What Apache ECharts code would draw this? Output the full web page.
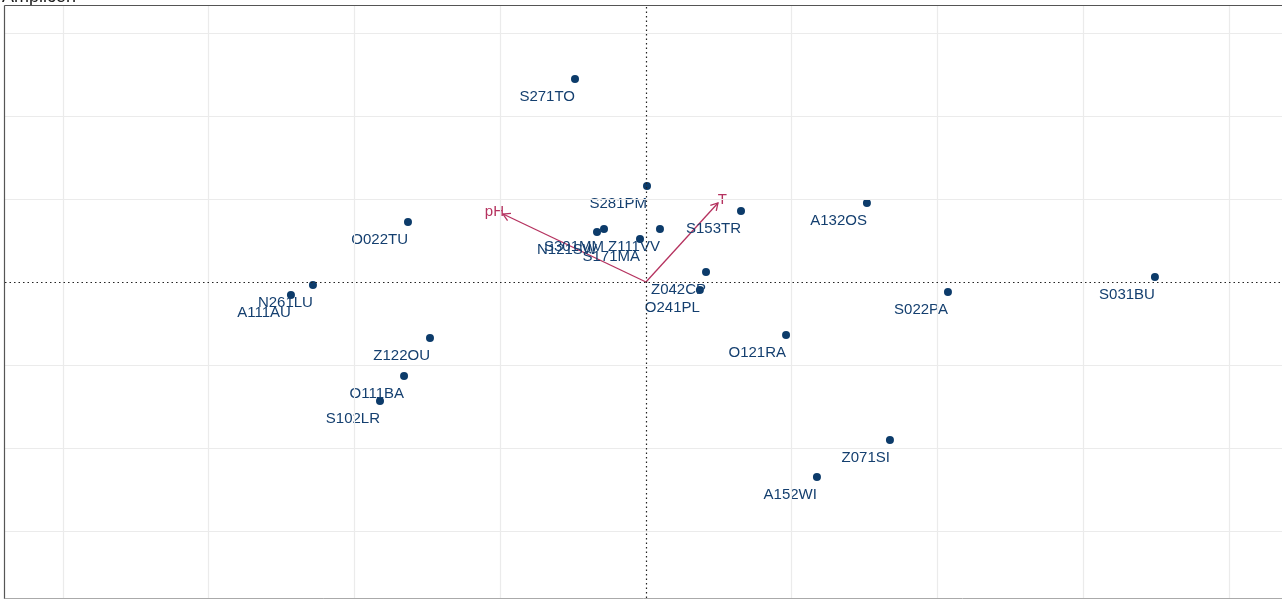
<!DOCTYPE html>
<html><head><meta charset="utf-8">
<script src="https://cdn.jsdelivr.net/npm/echarts@6/dist/echarts.min.js"></script>
<style>html,body{margin:0;padding:0;background:#fff}#c{width:1282px;height:599px}</style>
</head><body><div id="c"></div>
<script>
// Site scores (ordination axis units; grid spacing = 1)
const siteNames = ['S271TO','S281PM','A132OS','S153TR','O022TU','S301MM','N121SW','Z111VV','S171MA','Z042CP','O241PL','N261LU','A111AU','S031BU','S022PA','Z122OU','O121RA','O111BA','S102LR','Z071SI','A152WI'];
const siteX = [-0.487, 0.007, 1.516, 0.652, -1.633, -0.288, -0.336, 0.096, -0.041, 0.412, 0.370, -2.285, -2.436, 3.492, 2.072, -1.482, 0.961, -1.660, -1.825, 1.674, 1.173];
const siteY = [2.446, 1.157, 0.952, 0.855, 0.723, 0.639, 0.602, 0.639, 0.518, 0.120, -0.096, -0.036, -0.157, 0.060, -0.120, -0.675, -0.639, -1.133, -1.434, -1.904, -2.349];
// Environmental vectors
const envNames = ['pH', 'T'];
const envX = [-0.981, 0.494];
const envY = [0.819, 0.952];
// Grid line positions
const xGrid = [-4, -3, -2, -1, 1, 2, 3, 4];
const yGrid = [-3, -2, -1, 1, 2, 3];

const chart = echarts.init(document.getElementById('c'));
const ARROW = '#b5325f';
const FONT = '"Liberation Sans", Arial, sans-serif';

const gridLines = [];
xGrid.forEach(v => gridLines.push({xAxis: v}));
yGrid.forEach(v => gridLines.push({yAxis: v}));

chart.setOption({
  animation: false,
  grid: {left: 5, top: 5, right: 0, bottom: 1},
  xAxis: {type: 'value', min: -4.398, max: 4.364, axisLine: {show: false}, axisTick: {show: false}, axisLabel: {show: false}, splitLine: {show: false}},
  yAxis: {type: 'value', min: -3.807, max: 3.337, axisLine: {show: false}, axisTick: {show: false}, axisLabel: {show: false}, splitLine: {show: false}},
  graphic: [
    {type: 'text', left: 2, top: -12, style: {text: 'Amplicon', font: '18px ' + FONT, fill: '#1a1a1a'}, z: 100},
    {type: 'line', shape: {x1: 4.5, y1: 5.5, x2: 1282, y2: 5.5}, style: {stroke: '#555', lineWidth: 1.2}, z: 100},
    {type: 'line', shape: {x1: 4.5, y1: 5.5, x2: 4.5, y2: 599}, style: {stroke: '#555', lineWidth: 1.2}, z: 100},
    {type: 'line', shape: {x1: 4.5, y1: 598.5, x2: 1282, y2: 598.5}, style: {stroke: '#aaa', lineWidth: 1}, z: 100}
  ],
  series: [
    {
      type: 'scatter', data: [], silent: true, z: 1,
      markLine: {silent: true, symbol: 'none', label: {show: false}, animation: false,
        lineStyle: {color: '#ebebeb', type: 'solid', width: 1.2}, data: gridLines}
    },
    {
      type: 'scatter', data: [], silent: true, z: 2,
      markLine: {silent: true, symbol: 'none', label: {show: false}, animation: false,
        lineStyle: {color: '#222', type: [1.5, 3], width: 1.2}, data: [{xAxis: 0}, {yAxis: 0}]}
    },
    {
      type: 'custom', z: 3, silent: true,
      data: envNames.map((n, i) => [envX[i], envY[i], n]),
      renderItem: function (params, api) {
        const x = api.value(0), y = api.value(1);
        const o = api.coord([0, 0]);
        const t = api.coord([x, y]);
        const l = api.coord([x * 1.06, y * 1.06]);
        const ang = Math.atan2(t[1] - o[1], t[0] - o[0]);
        const len = 8, sp = Math.PI / 6;
        const a1 = [t[0] - len * Math.cos(ang - sp), t[1] - len * Math.sin(ang - sp)];
        const a2 = [t[0] - len * Math.cos(ang + sp), t[1] - len * Math.sin(ang + sp)];
        const st = {stroke: ARROW, lineWidth: 1.3, fill: null};
        return {type: 'group', children: [
          {type: 'line', shape: {x1: o[0], y1: o[1], x2: t[0], y2: t[1]}, style: st},
          {type: 'polyline', shape: {points: [a1, t, a2]}, style: st},
          {type: 'text', x: l[0], y: l[1] + 2, style: {text: api.value(2), font: '15px ' + FONT, fill: ARROW, align: 'center', verticalAlign: 'middle'}}
        ]};
      }
    },
    {
      type: 'scatter', z: 4, symbolSize: 8,
      itemStyle: {color: '#0c3b6a', opacity: 1},
      data: siteNames.map((n, i) => ({name: n, value: [siteX[i], siteY[i]]})),
      label: {show: true, formatter: p => p.name, position: [4, 22], align: 'right', verticalAlign: 'middle',
        fontFamily: FONT, fontSize: 15, color: '#143f6f'}
    }
  ]
});
</script></body></html>
